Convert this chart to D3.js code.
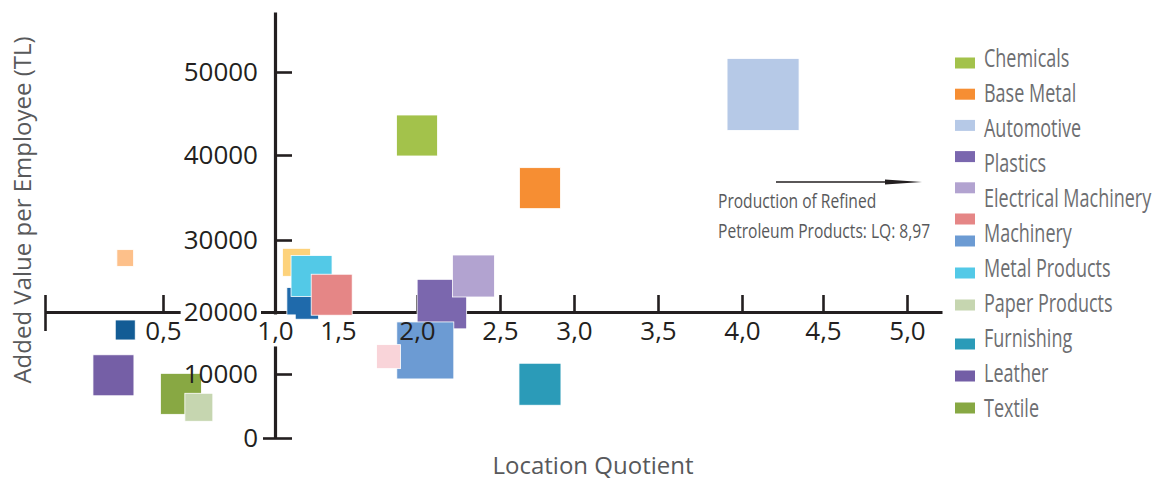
<!DOCTYPE html>
<html><head><meta charset="utf-8">
<script src="https://cdn.jsdelivr.net/npm/d3@7"></script>
<style>body{margin:0;background:#fff} svg{display:block}</style>
</head><body>
<svg id="chart" width="1165" height="483"></svg>
<script>
// ---------------- data ----------------
const sectors = ["Automotive","Chemicals","Base Metal","Unlabeled A","Unlabeled B","Leather","Textile","Paper Products",
  "Unlabeled C","Unlabeled D","Unlabeled E","Machinery","Plastics","Electrical Machinery","Metal Products","Unlabeled F","Furnishing"];
const locationQuotient = [4.13, 2.00, 2.77, 0.34, 0.34, 0.29, 0.58, 0.66, 1.17, 1.22, 1.29, 1.45, 2.15, 2.34, 2.05, 1.82, 2.77];
const addedValue = [47300, 42350, 36100, 27500, 17100, 9800, 6900, 4800, 26900, 21200, 25000, 22400, 21100, 25000, 13800, 12800, 8400];
const employmentWeight = [100, 32.4, 32.4, 5.4, 7.7, 32.4, 32.4, 15.1, 15.1, 19.4, 32.4, 32.4, 47.3, 34, 62.7, 11.1, 34];
const sectorColors = ["#b6c9e7","#a3c24b","#f68e33","#fdc08a","#135c95","#755fa6","#88a843","#c6d6b0",
  "#fdd27b","#1f6aab","#53c9e7","#e58686","#7b67ae","#b2a3d0","#6c9bd3","#f9d4d9","#2b9bb8"];

const legendLabels = ["Chemicals","Base Metal","Automotive","Plastics","Electrical Machinery","Machinery",
  "Metal Products","Paper Products","Furnishing","Leather","Textile"];
const legendColors = ["#a3c24b","#f68e33","#b6c9e7","#7a67ae","#b2a3d0","#e58686","#6c9bd3","#53c9e7",
  "#c6d6b0","#2b9bb8","#735ea6","#87a843"];

const xTicks = [0, 0.5, 1.0, 1.5, 2.0, 2.5, 3.0, 3.5, 4.0, 4.5, 5.0];
const yTicks = [0, 10000, 20000, 30000, 40000, 50000];
const annotationLines = ["Production of Refined", "Petroleum Products: LQ: 8,97"];
const xTitle = "Location Quotient";
const yTitle = "Added Value per Employee (TL)";

// ---------------- scales ----------------
const x = d3.scaleLinear()
  .domain([0, 0.5, 1, 1.5, 2, 2.5, 3, 3.5, 4, 4.5, 5, 5.2])
  .range([45, 163, 275, 338, 417, 500, 574, 658, 742, 823, 907, 942]);
const y = d3.scaleLinear()
  .domain([0, 10000, 20000, 30000, 40000, 50000, 57200])
  .range([438, 374, 312, 240, 155, 72, 12]);
const side = d3.scaleSqrt().domain([0, 100]).range([0, 72]);

const svg = d3.select("#chart");
const axisColor = "#231f20";
const fmtX = d => d === 0 ? "" : d3.format(".1f")(d).replace(".", ",");
const crossX = 1.0, crossY = 20000;

// ---------------- axis lines (under marks) ----------------
const xAxis = d3.axisBottom(x).tickValues(xTicks).tickSize(-17).tickSizeOuter(0).tickPadding(10).tickFormat(fmtX);
const yAxis = d3.axisLeft(y).tickValues(yTicks).tickSize(-17).tickSizeOuter(0).tickPadding(17).tickFormat(d3.format("d"));

function styleLines(g){
  g.select(".domain").attr("stroke", axisColor).attr("stroke-width", 3.2);
  g.selectAll(".tick line").attr("stroke", axisColor).attr("stroke-width", 2.6);
  g.selectAll("text").remove();
}
const gxL = svg.append("g").attr("transform", `translate(0,${y(crossY)})`).call(xAxis).call(styleLines);
gxL.selectAll(".tick").filter(d => d === 0).select("line").attr("y1", 19);
const gyL = svg.append("g").attr("transform", `translate(${x(crossX)},0)`).call(yAxis).call(styleLines);
gyL.selectAll(".tick").filter(d => d === 0).select("line").attr("x1", -12);

// ---------------- squares ----------------
const data = sectors.map((s, i) => ({name: s, lq: locationQuotient[i], v: addedValue[i], w: employmentWeight[i], c: sectorColors[i]}));
svg.append("g").selectAll("rect").data(data).join("rect")
  .attr("x", d => x(d.lq) - side(d.w) / 2)
  .attr("y", d => y(d.v) - side(d.w) / 2)
  .attr("width", d => side(d.w))
  .attr("height", d => side(d.w))
  .attr("fill", d => d.c)
  .attr("stroke", "#fff").attr("stroke-width", 0.8);

// ---------------- axis labels (above marks) ----------------
function styleLabels(g){
  g.select(".domain").remove();
  g.selectAll(".tick line").remove();
  g.selectAll("text").attr("font-family", "'Open Sans', sans-serif").attr("font-size", 26).attr("fill", axisColor);
}
const gxT = svg.append("g").attr("transform", `translate(0,${y(crossY)})`).call(xAxis).call(styleLabels);
const gyT = svg.append("g").attr("transform", `translate(${x(crossX)},0)`).call(yAxis).call(styleLabels);
function knockout(tick, px, py){
  const t = tick.select("text");
  const b = t.node().getBBox();
  tick.insert("rect", "text").attr("x", b.x - px).attr("y", b.y - py)
    .attr("width", b.width + 2 * px).attr("height", b.height + 2 * py).attr("fill", "#fff");
}
gxT.selectAll(".tick").filter(d => d === crossX).each(function(){ knockout(d3.select(this), 2, -2); });
gyT.selectAll(".tick").filter(d => d === crossY).each(function(){ knockout(d3.select(this), 3, -4); });

// ---------------- titles ----------------
svg.append("text").attr("x", 593).attr("y", 474).attr("text-anchor", "middle")
  .attr("font-family", "'Open Sans', sans-serif").attr("font-size", 24).attr("fill", "#58595b").text(xTitle);
svg.append("text").attr("transform", "translate(31,210) rotate(-90)").attr("text-anchor", "middle")
  .attr("font-family", "'Open Sans', sans-serif").attr("font-size", 24).attr("fill", "#58595b").text(yTitle);

// ---------------- annotation ----------------
const ann = svg.append("g");
ann.append("line").attr("x1", 776).attr("x2", 888).attr("y1", 182).attr("y2", 182)
  .attr("stroke", "#231f20").attr("stroke-width", 1.3);
ann.append("path").attr("d", "M885,179.5 L922,182 L885,184.5 Z").attr("fill", "#231f20");
ann.selectAll("text").data(annotationLines).join("text")
  .attr("transform", (d, i) => `translate(718,${208 + i * 29.5}) scale(0.8,1)`)
  .attr("font-family", "'Open Sans', sans-serif").attr("font-size", 19.5).attr("fill", "#58595b")
  .text(d => d);

// ---------------- legend ----------------
const swatchY = d3.scaleLinear().domain([0, 5, 6, 8, 9, 11]).range([63, 219, 241, 305, 344, 408]);
const labelY = d3.scaleLinear().domain([0, 10]).range([58, 408]);
const lg = svg.append("g");
lg.selectAll("rect").data(legendColors).join("rect")
  .attr("x", 955).attr("y", (d, i) => swatchY(i) - 5.5).attr("width", 20).attr("height", 11).attr("fill", d => d);
lg.selectAll("text").data(legendLabels).join("text")
  .attr("transform", (d, i) => `translate(984,${labelY(i)}) scale(0.72,1)`)
  .attr("dy", "0.35em")
  .attr("font-family", "'Open Sans', sans-serif").attr("font-size", 25).attr("fill", "#6d6e71")
  .text(d => d);
</script>
</body></html>
